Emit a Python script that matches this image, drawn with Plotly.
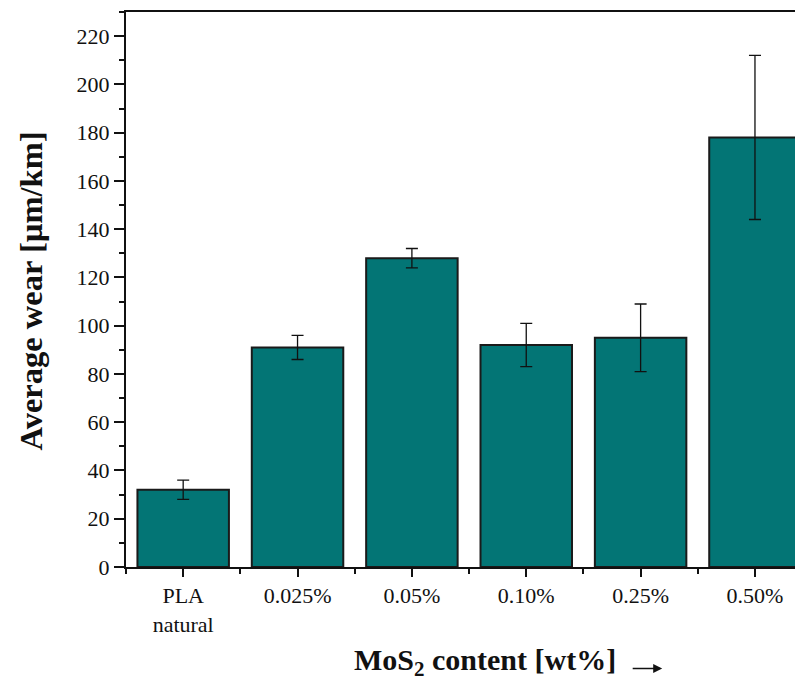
import plotly.graph_objects as go

categories = ["PLA<br>natural", "0.025%", "0.05%", "0.10%", "0.25%", "0.50%"]
wear = [32, 91, 128, 92, 95, 178]
err = [4, 5, 4, 9, 14, 34]

FONT = "Liberation Serif"

fig = go.Figure()
fig.add_trace(go.Bar(
    x=list(range(len(categories))), y=wear,
    width=0.8,
    marker=dict(color="#037575", line=dict(color="#1a1a1a", width=2)),
    error_y=dict(type="data", array=err, visible=True, color="#111111", thickness=1.3, width=6),
))

fig.update_layout(
    width=795, height=678,
    margin=dict(l=118, r=0, t=4, b=119),
    plot_bgcolor="white", paper_bgcolor="white",
    showlegend=False,
    font=dict(family=FONT, color="#111111", size=22),
)
fig.update_xaxes(
    range=[-0.5, 5.42],
    tickmode="array", tickvals=list(range(len(categories))), ticktext=categories,
    ticks="outside", ticklen=8, tickwidth=2, tickcolor="#111111",
    minor=dict(tickmode="array", tickvals=[i + 0.5 for i in range(-1, 6)], ticks="outside", ticklen=5, tickwidth=2, tickcolor="#111111"),
    showline=True, linewidth=2, linecolor="#111111", mirror=True,
    showgrid=False, zeroline=False,
    tickfont=dict(family=FONT, size=22),
)
fig.update_yaxes(
    range=[0, 230],
    tickmode="array", tickvals=list(range(0, 221, 20)),
    ticks="outside", ticklen=10, tickwidth=2, tickcolor="#111111",
    minor=dict(tickmode="array", tickvals=list(range(10, 231, 20)), ticks="outside", ticklen=5, tickwidth=2, tickcolor="#111111"),
    showline=True, linewidth=2, linecolor="#111111", mirror=False,
    showgrid=False, zeroline=False,
    tickfont=dict(family=FONT, size=22),
)

# y-axis title
fig.add_annotation(
    xref="paper", yref="paper", x=-0.140, y=0.497, xanchor="center", yanchor="middle",
    text="<b>Average wear [µm/km]</b>", textangle=-90, showarrow=False,
    font=dict(family=FONT, size=32.5, color="#111111"),
)
# x-axis title and arrow
fig.add_annotation(
    xref="paper", yref="paper", x=0.334, y=-0.172, xanchor="left", yanchor="middle",
    text="<b>MoS<sub>2</sub> content [wt%]</b>", showarrow=False,
    font=dict(family=FONT, size=30, color="#111111"),
)
fig.add_annotation(
    xref="paper", yref="paper", x=0.792, y=-0.183, ax=-31, ay=0,
    axref="pixel", ayref="pixel", text="", showarrow=True,
    arrowhead=2, arrowsize=1.2, arrowwidth=1.5, arrowcolor="#111111",
)

fig.write_html("out.html")
